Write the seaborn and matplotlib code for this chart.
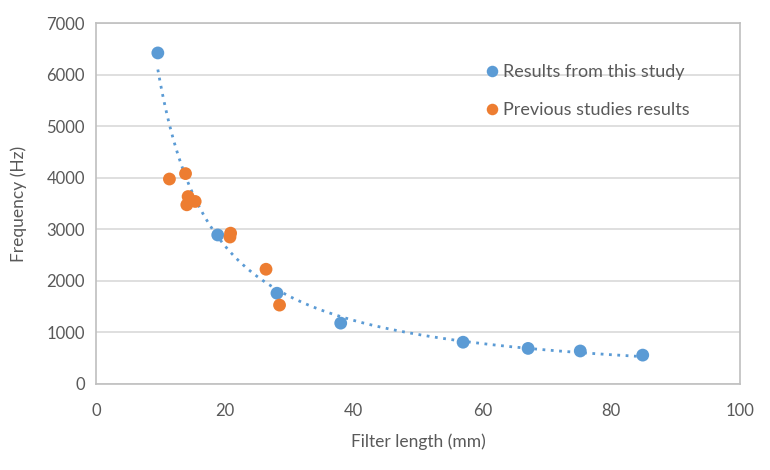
import numpy as np
import pandas as pd
import matplotlib
matplotlib.use('Agg')
import matplotlib.pyplot as plt
import seaborn as sns

# this study
study_len = [9.6, 18.9, 28.1, 38.0, 57.0, 67.1, 75.2, 84.9]
study_freq = [6420, 2890, 1760, 1180, 810, 690, 640, 560]

# previous studies
prev_len = [11.4, 13.9, 14.3, 14.1, 15.4, 20.8, 20.9, 26.4, 28.5]
prev_freq = [3975, 4080, 3635, 3475, 3540, 2850, 2925, 2225, 1530]

blue = '#5B9BD5'
orange = '#ED7D31'
grey = '#595959'

sns.set_style('white')
plt.rcParams['font.family'] = ['Lato', 'DejaVu Sans']

df = pd.concat([
    pd.DataFrame({'len': study_len, 'freq': study_freq, 'src': 'Results from this study'}),
    pd.DataFrame({'len': prev_len, 'freq': prev_freq, 'src': 'Previous studies results'}),
])

# power trendline through this study's points (like Excel)
b, log_a = np.polyfit(np.log(study_len), np.log(study_freq), 1)
xs = np.linspace(min(study_len), max(study_len), 200)
trend = pd.DataFrame({'len': xs, 'freq': np.exp(log_a) * xs ** b})

fig = plt.figure(figsize=(7.7, 4.7), dpi=100)
ax = fig.add_axes([0.1247, 0.183, 0.8363, 0.768])

sns.lineplot(x='len', y='freq', data=trend, ax=ax, color=blue, lw=2,
             ls=(0, (1, 2)), legend=False, zorder=3)
sns.scatterplot(x='len', y='freq', hue='src', data=df, ax=ax,
                palette=[blue, orange], s=85, edgecolor='none', zorder=4)

ax.set_xlim(0, 100)
ax.set_ylim(0, 7000)
ax.set_xticks(range(0, 101, 20))
ax.set_yticks(range(0, 7001, 1000))
ax.grid(axis='y', color='#D9D9D9', lw=1.2)
ax.set_axisbelow(True)
for sp in ax.spines.values():
    sp.set_color('#BFBFBF')
    sp.set_linewidth(1.2)
ax.tick_params(length=0, labelsize=12, colors=grey, pad=14)
ax.tick_params(axis='y', pad=8)
ax.set_xlabel('Filter length (mm)', fontsize=12.5, color=grey, labelpad=10)
ax.set_ylabel('Frequency (Hz)', fontsize=12.5, color=grey, labelpad=14)

leg = ax.legend(loc='upper left', bbox_to_anchor=(0.579, 0.932), frameon=False,
                fontsize=13, handlelength=0.75, handletextpad=0.25,
                labelspacing=1.25, markerscale=0.9)
for t in leg.get_texts():
    t.set_color(grey)

fig.savefig('out.png', dpi=100)
